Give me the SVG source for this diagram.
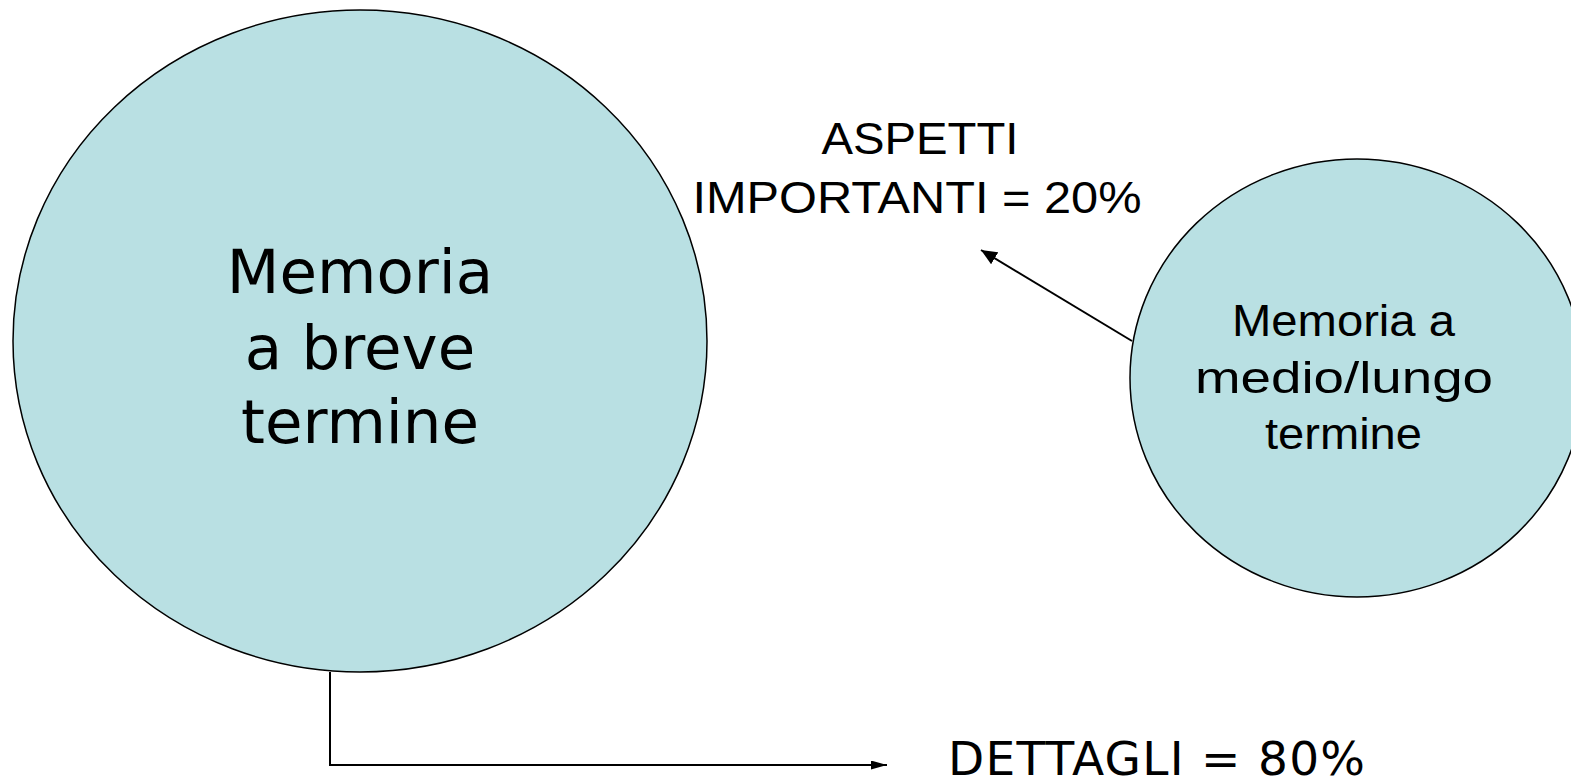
<svg xmlns="http://www.w3.org/2000/svg" width="1571" height="779" viewBox="0 0 1571 779">
  <style>
    .node { fill: #B9E0E3; stroke: #000; stroke-width: 1.5; }
    .conn { fill: none; stroke: #000; stroke-width: 2; }
    .big { font-family: "DejaVu Sans", Verdana, sans-serif; font-size: 61px; fill: #000; text-anchor: middle; }
    .ar { font-family: "Liberation Sans", Arial, sans-serif; font-size: 45px; fill: #000; text-anchor: middle; }
    .det { font-family: "DejaVu Sans", Verdana, sans-serif; font-size: 47px; fill: #000; }
  </style>
  <defs>
    <marker id="ah1" markerUnits="userSpaceOnUse" markerWidth="16" markerHeight="14" refX="16" refY="7" orient="auto">
      <path d="M0,0 L16,7 L0,14 z" fill="#000"/>
    </marker>
    <marker id="ah2" markerUnits="userSpaceOnUse" markerWidth="16" markerHeight="9" refX="16" refY="4.5" orient="auto">
      <path d="M0,0 L16,4.5 L0,9 z" fill="#000"/>
    </marker>
  </defs>
  <rect width="1571" height="779" fill="#fff"/>
  <g id="connectors">
    <line class="conn" x1="1132" y1="341" x2="981" y2="250" marker-end="url(#ah1)"/>
    <path class="conn" d="M330,672 V765 H887" marker-end="url(#ah2)"/>
  </g>
  <g id="node-breve">
    <ellipse class="node" cx="360" cy="341" rx="347" ry="331"/>
    <text class="big" x="360" y="293">Memoria</text>
    <text class="big" x="360" y="369">a breve</text>
    <text class="big" x="360" y="443">termine</text>
  </g>
  <g id="node-lungo">
    <ellipse class="node" cx="1357" cy="378" rx="227" ry="219"/>
    <text class="ar" x="1343.5" y="336" textLength="223" lengthAdjust="spacingAndGlyphs">Memoria a</text>
    <text class="ar" x="1344" y="393" textLength="298" lengthAdjust="spacingAndGlyphs">medio/lungo</text>
    <text class="ar" x="1343.5" y="449" textLength="157" lengthAdjust="spacingAndGlyphs">termine</text>
  </g>
  <g id="label-aspetti">
    <text class="ar" x="920" y="154" textLength="197" lengthAdjust="spacingAndGlyphs">ASPETTI</text>
    <text class="ar" x="917" y="213" textLength="449" lengthAdjust="spacingAndGlyphs">IMPORTANTI = 20%</text>
  </g>
  <g id="label-dettagli">
    <text class="det" x="948" y="775" textLength="417" lengthAdjust="spacing">DETTAGLI = 80%</text>
  </g>
</svg>
